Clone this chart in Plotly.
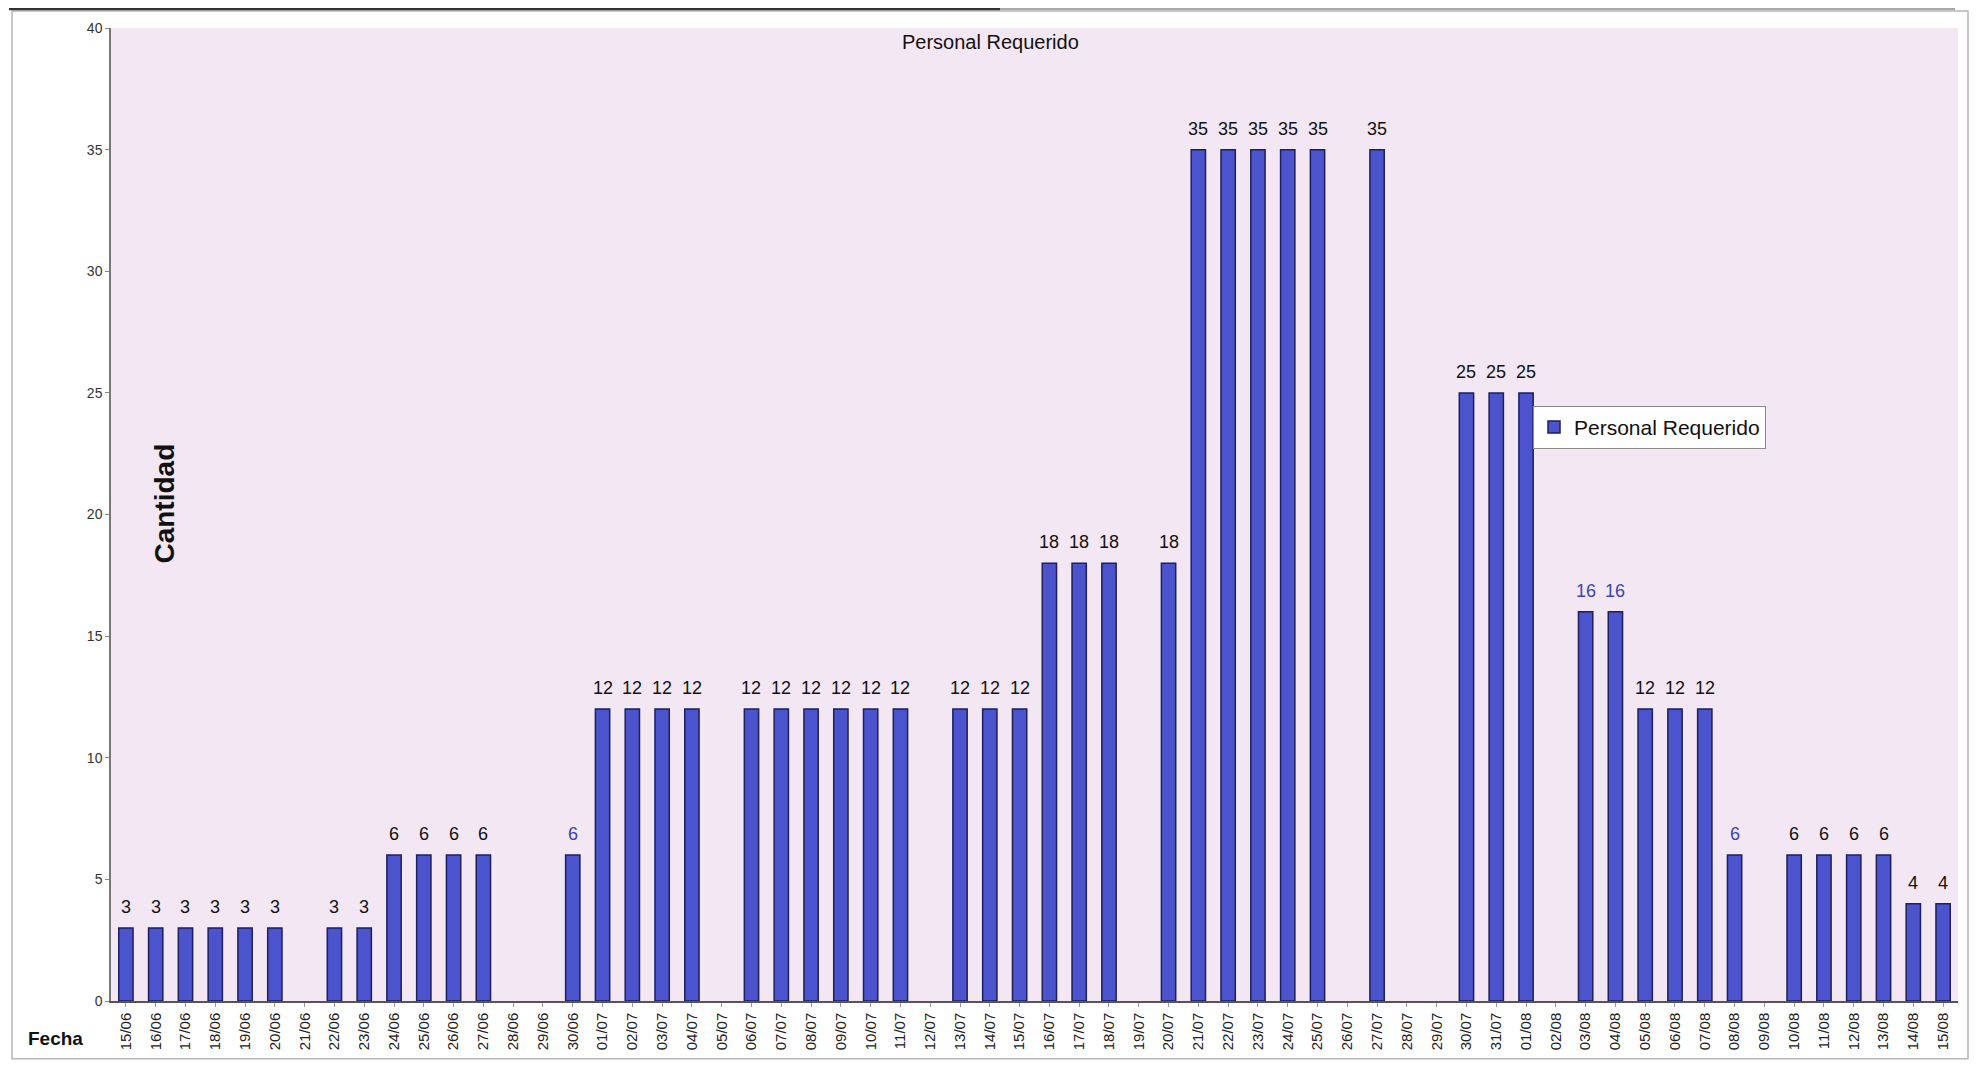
import plotly.graph_objects as go

fechas = ["15/06", "16/06", "17/06", "18/06", "19/06", "20/06", "21/06", "22/06", "23/06", "24/06",
          "25/06", "26/06", "27/06", "28/06", "29/06", "30/06", "01/07", "02/07", "03/07", "04/07",
          "05/07", "06/07", "07/07", "08/07", "09/07", "10/07", "11/07", "12/07", "13/07", "14/07",
          "15/07", "16/07", "17/07", "18/07", "19/07", "20/07", "21/07", "22/07", "23/07", "24/07",
          "25/07", "26/07", "27/07", "28/07", "29/07", "30/07", "31/07", "01/08", "02/08", "03/08",
          "04/08", "05/08", "06/08", "07/08", "08/08", "09/08", "10/08", "11/08", "12/08", "13/08",
          "14/08", "15/08"]
personal = [3, 3, 3, 3, 3, 3, 0, 3, 3, 6,
            6, 6, 6, 0, 0, 6, 12, 12, 12, 12,
            0, 12, 12, 12, 12, 12, 12, 0, 12, 12,
            12, 18, 18, 18, 0, 18, 35, 35, 35, 35,
            35, 0, 35, 0, 0, 25, 25, 25, 0, 16,
            16, 12, 12, 12, 6, 0, 6, 6, 6, 6,
            4, 4]
etiquetas_azules = ["30/06", "03/08", "04/08", "08/08"]
y_ticks = [0, 5, 10, 15, 20, 25, 30, 35, 40]

# page geometry (the html body adds an 8px margin around the figure)
OFF = 8
PL, PR, PT, PB = 111, 1958, 28, 1004
W, H = 1961, 1053


def px(x):
    return (x - PL) / (PR - PL)


def py(y):
    return (PB - y) / (PB - PT)


fig = go.Figure()
fig.add_trace(go.Bar(
    x=fechas, y=personal, name="Personal Requerido",
    width=0.48,
    marker=dict(color="#4B54CC",
                line=dict(color="#1E1F5C", width=[1.5 if v > 0 else 0 for v in personal])),
    showlegend=True,
))

annotations = []
for f, v in zip(fechas, personal):
    if v <= 0:
        continue
    col = "#3B43B3" if f in etiquetas_azules else "#111111"
    annotations.append(dict(x=f, y=v, xref="x", yref="y", text=str(v), showarrow=False,
                            yanchor="bottom", yshift=9,
                            font=dict(family="Arial", size=18, color=col)))

annotations += [
    dict(text="Personal Requerido", xref="paper", yref="paper", x=px(990), y=py(42),
         xanchor="center", yanchor="middle", showarrow=False,
         font=dict(family="Arial", size=20, color="#111111")),
    dict(text="<b>Cantidad</b>", xref="paper", yref="paper", x=px(165), y=py(505),
         xanchor="center", yanchor="middle", showarrow=False, textangle=-90,
         font=dict(family="Arial", size=28, color="#111111")),
    dict(text="<b>Fecha</b>", xref="paper", yref="paper", x=px(55), y=py(1042),
         xanchor="center", yanchor="middle", showarrow=False,
         font=dict(family="Arial", size=19, color="#111111")),
]

shapes = [
    dict(type="rect", xref="paper", yref="paper",
         x0=px(12), x1=px(1968), y0=py(1062), y1=py(11),
         line=dict(color="#B5B5B5", width=1.5), fillcolor="rgba(0,0,0,0)", layer="below"),
    dict(type="line", xref="paper", yref="paper",
         x0=px(9), x1=px(1000), y0=py(9), y1=py(9),
         line=dict(color="#333333", width=2.5), layer="below"),
    dict(type="line", xref="paper", yref="paper",
         x0=px(1000), x1=px(1955), y0=py(9), y1=py(9),
         line=dict(color="#8A8A8A", width=1.5), layer="below"),
]

fig.update_layout(
    width=W, height=H,
    margin=dict(l=PL - OFF, r=OFF + W - PR, t=PT - OFF, b=OFF + H - PB),
    paper_bgcolor="#FFFFFF",
    plot_bgcolor="#F4E7F4",
    annotations=annotations,
    shapes=shapes,
    legend=dict(x=px(1533), y=py(407), xanchor="left", yanchor="top",
                bgcolor="#FFFFFF", bordercolor="#8A8A8A", borderwidth=1,
                font=dict(family="Arial", size=21, color="#111111"),
                itemwidth=30, tracegroupgap=0),
    xaxis=dict(
        type="category", categoryorder="array", categoryarray=fechas,
        range=[-0.5, len(fechas) - 0.5],
        tickangle=-90, tickfont=dict(family="Arial", size=15, color="#222222"),
        showline=True, linecolor="#555555", linewidth=1.5,
        ticks="outside", ticklen=4, tickcolor="#999999",
        showgrid=False, zeroline=False,
    ),
    yaxis=dict(
        range=[0, 40], tickvals=y_ticks,
        tickfont=dict(family="Arial", size=14, color="#333333"),
        showline=True, linecolor="#777777", linewidth=1.5,
        ticks="outside", ticklen=4, tickcolor="#888888",
        showgrid=False, zeroline=False,
    ),
)

fig.write_html("out.html")
